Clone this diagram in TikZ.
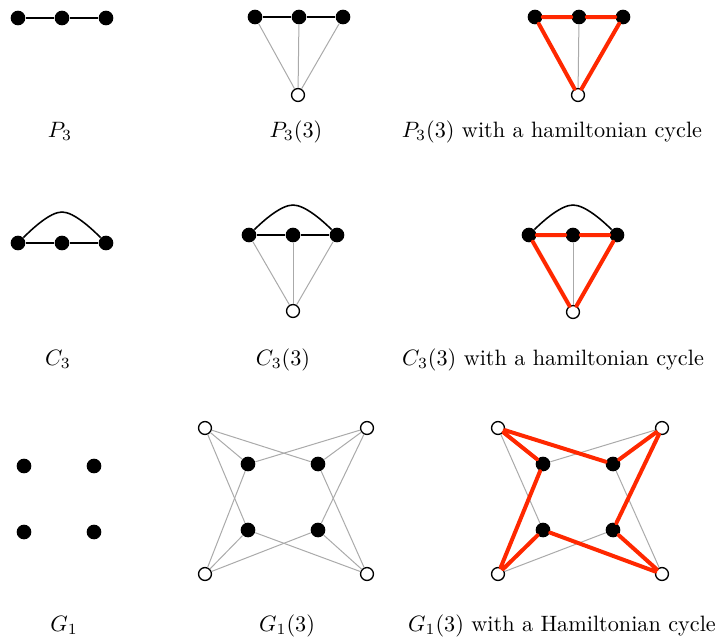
\documentclass[tikz,border=0pt]{standalone}
\usepackage{amsmath,amssymb}
\usepackage{xcolor}
\usetikzlibrary{positioning,calc}
\definecolor{cyclered}{RGB}{255,40,0}
\definecolor{edgegray}{RGB}{170,170,170}

\begin{document}
\begin{tikzpicture}[x=0.45pt, y=-0.45pt,
    vtx/.style={circle, inner sep=0pt, minimum size=6.6pt},
    full/.style={vtx, fill=black},
    hollow/.style={vtx, draw=black, fill=white, line width=0.6pt, minimum size=5.8pt},
    base/.style={draw=black, line width=0.7pt},
    spoke/.style={draw=edgegray, line width=0.45pt},
    hamedge/.style={draw=cyclered, line width=1.8pt, line cap=round},
    caption/.style={text height=7.5pt, text depth=2.5pt, inner sep=0pt},
]
    \useasboundingbox (0,0) rectangle (717,643);
    % Row 1: P_3
    \foreach \x [count=\i] in {18,62,106}
        \node[full] (pa\i) at (\x,18) {};
    \draw[base] (pa1) -- (pa2) -- (pa3);
    \node[caption] (lpa) at (60,132) {$P_3$};
    % P_3(3)
    \foreach \x [count=\i] in {255,299,343}
        \node[full] (pb\i) at (\x,17) {};
    \node[hollow] (pb0) at (298,95) {};
    \draw[base] (pb1) -- (pb2) -- (pb3);
    \foreach \i in {1,2,3}
        \draw[spoke] (pb0) -- (pb\i);
    \node[caption] (lpb) at (296,132) {$P_3(3)$};
    % P_3(3), cycle
    \foreach \x [count=\i] in {535,579,623}
        \node[full] (pc\i) at (\x,17) {};
    \node[hollow] (pc0) at (578,95) {};
    \draw[spoke] (pc0) -- (pc2);
    \draw[hamedge] (pc0) -- (pc1) -- (pc2) -- (pc3) -- (pc0);
    \node[caption] (lpc) at (552,132) {$P_3(3)$ with a hamiltonian cycle};

    % Row 2: C_3
    \foreach \x [count=\i] in {18,62,106}
        \node[full] (qa\i) at (\x,243) {};
    \coordinate (qatop) at (62,212);
    \draw[base] (qa1) -- (qa2) -- (qa3);
    \draw[base] (qa1) .. controls +(14,-14) and +(-12,0) .. (qatop)
        .. controls +(12,0) and +(-14,-14) .. (qa3);
    \node[caption] (lqa) at (58,360) {$C_3$};
    % C_3(3)
    \foreach \x [count=\i] in {249,293,337}
        \node[full] (qb\i) at (\x,235) {};
    \node[hollow] (qb0) at (293,311) {};
    \coordinate (qbtop) at (293,205);
    \draw[base] (qb1) -- (qb2) -- (qb3);
    \draw[base] (qb1) .. controls +(14,-14) and +(-12,0) .. (qbtop)
        .. controls +(12,0) and +(-14,-14) .. (qb3);
    \foreach \i in {1,2,3}
        \draw[spoke] (qb0) -- (qb\i);
    \node[caption] (lqb) at (283,360) {$C_3(3)$};
    % C_3(3), cycle
    \foreach \x [count=\i] in {529,573,617}
        \node[full] (qc\i) at (\x,235) {};
    \node[hollow] (qc0) at (573,312) {};
    \coordinate (qctop) at (573,205);
    \draw[base] (qc1) .. controls +(14,-14) and +(-12,0) .. (qctop)
        .. controls +(12,0) and +(-14,-14) .. (qc3);
    \draw[spoke] (qc0) -- (qc2);
    \draw[hamedge] (qc0) -- (qc1) -- (qc2) -- (qc3) -- (qc0);
    \node[caption] (lqc) at (553,360) {$C_3(3)$ with a hamiltonian cycle};

    % Row 3: G_1
    \foreach \n/\x/\y in {tl/24/466, tr/94/466, bl/24/532, br/94/532}
        \node[full] (ga\n) at (\x,\y) {};
    \node[caption] (lga) at (64,626) {$G_1$};
    % G_1(3)
    \foreach \n/\x/\y in {tl/205/428, tr/367/428, bl/205/574, br/367/574}
        \node[hollow] (gbo\n) at (\x,\y) {};
    \foreach \n/\x/\y in {tl/248/464, tr/318/464, bl/248/530, br/318/530}
        \node[full] (gbi\n) at (\x,\y) {};
    \foreach \a/\b/\c in {tl/tr/bl, tr/tl/br, bl/br/tl, br/bl/tr}
        \draw[spoke] (gbo\a) -- (gbi\a) (gbo\a) -- (gbi\b) (gbo\a) -- (gbi\c);
    \node[caption] (lgb) at (287,626) {$G_1(3)$};
    % G_1(3), cycle
    \foreach \n/\x/\y in {tl/498/428, tr/662/428, bl/498/574, br/662/574}
        \node[hollow] (gco\n) at (\x,\y) {};
    \foreach \n/\x/\y in {tl/543/464, tr/613/464, bl/543/530, br/613/530}
        \node[full] (gci\n) at (\x,\y) {};
    \foreach \a/\b in {tl/bl, tr/tl, bl/br, br/tr}
        \draw[spoke] (gco\a) -- (gci\b);
    \draw[hamedge] (gcotl) -- (gcitl) -- (gcobl) -- (gcibl) -- (gcobr)
        -- (gcibr) -- (gcotr) -- (gcitr) -- (gcotl);
    \node[caption] (lgc) at (562,626) {$G_1(3)$ with a Hamiltonian cycle};
\end{tikzpicture}
\end{document}
